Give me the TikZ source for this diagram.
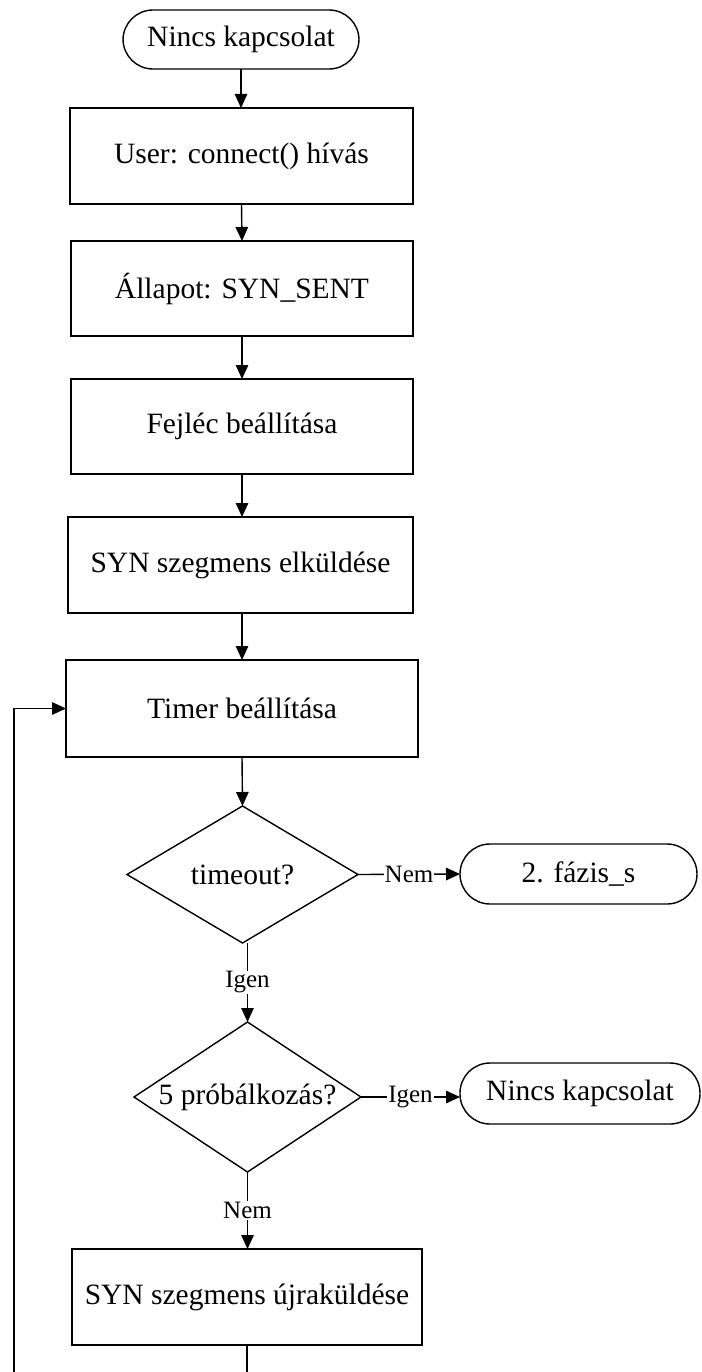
\documentclass[tikz,border=0pt]{standalone}
\usepackage{fontspec}
\setmainfont{Liberation Serif}
\usetikzlibrary{shapes.geometric,arrows.meta}

\tikzset{
  flow/.style={line width=1.4pt, draw=black},
  procbox/.style={flow, rectangle, inner sep=0pt, outer sep=0pt,
    font=\fontsize{29.5}{34}\selectfont},
  term/.style={flow, rectangle, rounded corners=30pt, inner sep=0pt, outer sep=0pt,
    font=\fontsize{29.5}{34}\selectfont},
  decide/.style={flow, diamond, inner sep=0pt, outer sep=0pt,
    font=\fontsize{29.5}{34}\selectfont},
  link/.style={line width=1.4pt, -{Triangle[length=14pt,width=12.5pt]}},
  branch/.style={fill=white, inner sep=1pt, font=\fontsize{25}{28}\selectfont}
}

\begin{document}
\begin{tikzpicture}[x=1pt,y=-1pt]
\clip (0,0) rectangle (701,1372);
\fill[white] (0,0) rectangle (701,1372);

% main column
\node[term, minimum width=236pt, minimum height=59pt] (start) at (241,39.5) {Nincs kapcsolat};
\node[procbox, minimum width=343pt, minimum height=96pt] (user) at (241.5,156) {User: connect() hívás};
\node[procbox, minimum width=342pt, minimum height=95pt] (state) at (242,288.5) {Állapot: SYN\_SENT};
\node[procbox, minimum width=342pt, minimum height=95pt] (header) at (242,426.5) {Fejléc beállítása};
\node[procbox, minimum width=345pt, minimum height=96pt] (send) at (240.5,565) {SYN szegmens elküldése};
\node[procbox, minimum width=352pt, minimum height=97pt] (timer) at (242,708.5) {Timer beállítása};

% decisions
\node[decide, minimum width=231pt, minimum height=137pt, aspect=1.7] (tout) at (242.5,874.5) {timeout?};
\node[term, minimum width=237pt, minimum height=60pt] (phase) at (578.5,874) {2. fázis\_s};

\node[decide, minimum width=227pt, minimum height=150pt, aspect=1.5] (tries) at (247.5,1097) {5 próbálkozás?};
\node[term, minimum width=240pt, minimum height=61pt] (fail) at (580,1093.5) {Nincs kapcsolat};

\node[procbox, minimum width=350pt, minimum height=96pt] (resend) at (247,1297) {SYN szegmens újraküldése};

% straight connectors
\draw[link] (start) -- (start |- user.north);
\draw[link] (user.south) -- (state.north);
\draw[link] (state.south) -- (header.north);
\draw[link] (header.south) -- (send.north -| header.south);
\draw[link] (send.south -| timer.north) -- (timer.north);
\draw[link] (timer.south) -- (tout.north);

% decision branches
\draw[link] (tout.east) -- node[branch] {Nem} (phase.west);
\draw[link] (tries.east) -- node[branch] {Igen} (tries.east -| fail.west);
\draw[link] (tries.north |- tout.south) -- node[branch] {Igen} (tries.north);
\draw[link] (tries.south) -- node[branch] {Nem} (resend.north -| tries.south);

% retry loop back to the timer
\coordinate (loopleft) at (14,1400);
\draw[link] (resend.south) -- (resend.south |- loopleft) -- (loopleft) |- (timer.west);
\end{tikzpicture}
\end{document}
